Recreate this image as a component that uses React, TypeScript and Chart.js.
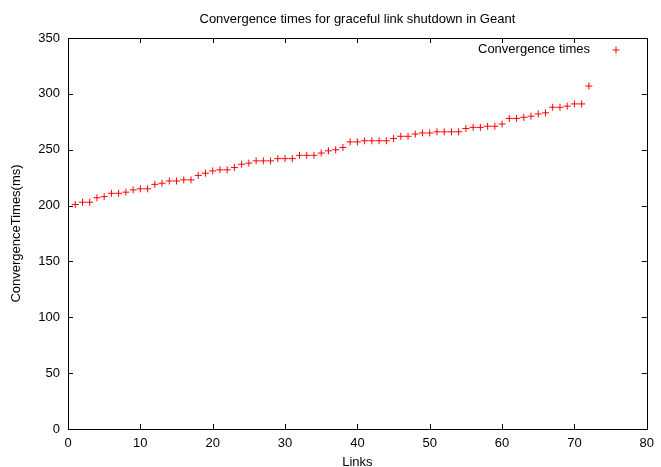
import React, { useEffect, useRef } from "react";
import { Chart, registerables } from "chart.js";

Chart.register(...registerables);

const TITLE = "Convergence times for graceful link shutdown in Geant";
const X_LABEL = "Links";
const Y_LABEL = "ConvergenceTimes(ms)";
const SERIES_LABEL = "Convergence times";

const links = [
  1, 2, 3, 4, 5, 6, 7, 8, 9, 10, 11, 12, 13, 14, 15, 16, 17, 18, 19, 20, 21, 22, 23, 24,
  25, 26, 27, 28, 29, 30, 31, 32, 33, 34, 35, 36, 37, 38, 39, 40, 41, 42, 43, 44, 45, 46, 47, 48,
  49, 50, 51, 52, 53, 54, 55, 56, 57, 58, 59, 60, 61, 62, 63, 64, 65, 66, 67, 68, 69, 70, 71, 72,
];

const convergenceTimes = [
  201, 203, 203, 207, 208, 211, 211, 212, 214, 215, 215, 219, 220, 222, 222, 223, 223, 227, 229, 231, 232, 232, 234, 237,
  238, 240, 240, 240, 242, 242, 242, 245, 245, 245, 247, 249, 250, 252, 257, 257, 258, 258, 258, 258, 260, 262, 262, 264,
  265, 265, 266, 266, 266, 266, 269, 270, 270, 271, 271, 273, 278, 278, 279, 280, 282, 283, 288, 288, 289, 291, 291, 307,
];

const X_MIN = 0;
const X_MAX = 80;
const X_STEP = 10;
const Y_MIN = 0;
const Y_MAX = 350;
const Y_STEP = 50;

const FONT = '"Liberation Sans", Arial, sans-serif';
const RED = "#ff0000";

const gnuplotFrame = {
  id: "gnuplotFrame",
  afterDraw(chart: any) {
    const ctx = chart.ctx;
    const { left, right, top, bottom } = chart.chartArea;
    const xs = chart.scales.x;
    const ys = chart.scales.y;
    ctx.save();
    ctx.strokeStyle = "#000";
    ctx.lineWidth = 1;
    // border
    ctx.strokeRect(Math.round(left) + 0.5, Math.round(top) + 0.5, Math.round(right - left), Math.round(bottom - top));
    // ticks
    const tl = 5;
    ctx.beginPath();
    for (let v = X_MIN + X_STEP; v < X_MAX; v += X_STEP) {
      const px = Math.round(xs.getPixelForValue(v)) + 0.5;
      ctx.moveTo(px, bottom);
      ctx.lineTo(px, bottom - tl);
      ctx.moveTo(px, top);
      ctx.lineTo(px, top + tl);
    }
    for (let v = Y_MIN + Y_STEP; v < Y_MAX; v += Y_STEP) {
      const py = Math.round(ys.getPixelForValue(v)) + 0.5;
      ctx.moveTo(left, py);
      ctx.lineTo(left + tl, py);
      ctx.moveTo(right, py);
      ctx.lineTo(right - tl, py);
    }
    ctx.stroke();

    // texts
    ctx.fillStyle = "#000";
    ctx.font = `13px ${FONT}`;
    ctx.textAlign = "center";
    ctx.textBaseline = "middle";
    ctx.fillText(TITLE, (left + right) / 2, 19);
    ctx.fillText(X_LABEL, (left + right) / 2, 462);
    ctx.save();
    ctx.translate(16.5, (top + bottom) / 2);
    ctx.rotate(-Math.PI / 2);
    ctx.fillText(Y_LABEL, 0, 0);
    ctx.restore();

    // legend
    ctx.textAlign = "right";
    ctx.fillText(SERIES_LABEL, 590, 49);
    ctx.strokeStyle = RED;
    ctx.beginPath();
    ctx.moveTo(612.5, 50);
    ctx.lineTo(619.5, 50);
    ctx.moveTo(616, 46.5);
    ctx.lineTo(616, 53.5);
    ctx.stroke();
    ctx.restore();
  },
};

export default function App() {
  const ref = useRef<HTMLCanvasElement | null>(null);
  useEffect(() => {
    if (!ref.current) return;
    const chart = new Chart(ref.current, {
      type: "scatter",
      data: {
        datasets: [
          {
            label: SERIES_LABEL,
            data: links.map((x, i) => ({ x, y: convergenceTimes[i] })),
            pointStyle: "cross",
            radius: 3.5,
            borderColor: RED,
            backgroundColor: RED,
            borderWidth: 1,
          },
        ],
      },
      options: {
        responsive: false,
        animation: false,
        devicePixelRatio: 1,
        layout: { padding: { top: 38, right: 10, left: 0, bottom: 0 } },
        plugins: {
          legend: { display: false },
          title: { display: false },
          tooltip: { enabled: false },
        },
        scales: {
          x: {
            type: "linear",
            min: X_MIN,
            max: X_MAX,
            grid: { display: false, drawTicks: false },
            border: { display: false },
            ticks: {
              stepSize: X_STEP,
              color: "#000",
              font: { family: FONT, size: 13 },
              padding: 7,
              maxRotation: 0,
            },
            afterFit: (s: any) => {
              s.height = 38;
            },
          },
          y: {
            type: "linear",
            min: Y_MIN,
            max: Y_MAX,
            grid: { display: false, drawTicks: false },
            border: { display: false },
            ticks: {
              stepSize: Y_STEP,
              color: "#000",
              font: { family: FONT, size: 13 },
              padding: 8,
            },
            afterFit: (s: any) => {
              s.width = 68;
            },
          },
        },
      },
      plugins: [gnuplotFrame],
    });
    return () => chart.destroy();
  }, []);
  return (
    <div style={{ position: "absolute", left: 0, top: 0, width: 661, height: 467, background: "#fff" }}>
      <canvas ref={ref} width={661} height={467} style={{ width: 661, height: 467, display: "block" }} />
    </div>
  );
}
